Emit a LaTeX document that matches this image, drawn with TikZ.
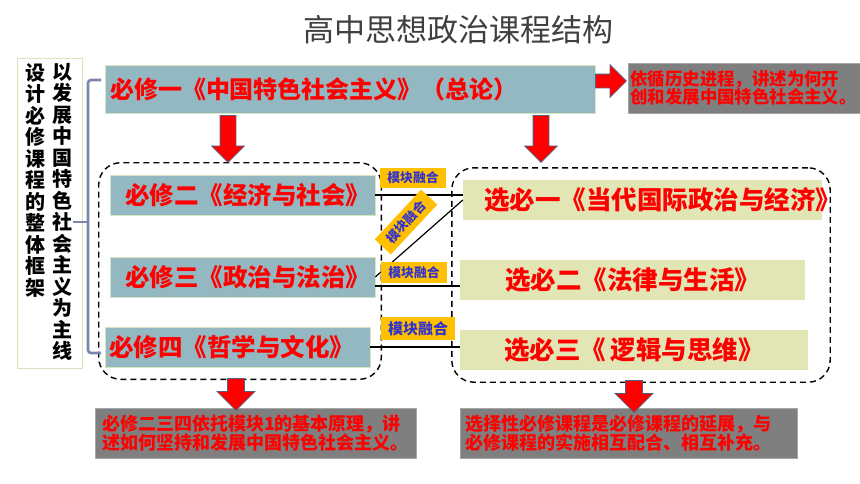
\documentclass[tikz,border=0pt]{standalone}
\usepackage{fontspec}
\setmainfont{Noto Sans CJK SC}
\usetikzlibrary{arrows.meta,backgrounds,calc,fit,shapes.arrows}
\definecolor{kcink}{HTML}{404040}
\definecolor{kcred}{HTML}{FF0000}
\definecolor{kcteal}{HTML}{93B8C1}
\definecolor{kctealedge}{HTML}{D7E4BD}
\definecolor{kcolive}{HTML}{E2E6B4}
\definecolor{kcgray}{HTML}{7F7F7F}
\definecolor{kcgrayedge}{HTML}{A6A6A6}
\definecolor{kcgold}{HTML}{FFC000}
\definecolor{kcblue}{HTML}{3333CC}
\definecolor{kcslate}{HTML}{7A85AC}
\definecolor{kcarrowedge}{HTML}{4F6082}
\definecolor{kcdot}{HTML}{A9BFD3}
\definecolor{kcframe}{HTML}{D9E4BE}
\tikzset{
  kcbox/.style={
    inner sep=0pt,
    minimum height=40pt,
    minimum width=265pt,
    text=kcred,
    font=\fontsize{24.5}{27}\selectfont\bfseries
  },
  kccore/.style={
    kcbox,
    fill=kcteal,
    draw=kctealedge,
    line width=0.6pt
  },
  kcelect/.style={
    kcbox,
    fill=kcolive,
    font=\fontsize{25.5}{28}\selectfont\bfseries
  },
  kcnote/.style={
    fill=kcgray,
    draw=kcgrayedge,
    line width=0.6pt,
    minimum height=50pt,
    inner ysep=0pt,
    align=left,
    text=kcred,
    font=\fontsize{18}{19}\selectfont\bfseries
  },
  kcfuse/.style={
    fill=kcgold,
    inner sep=0pt,
    minimum width=66pt,
    minimum height=20pt,
    text=kcblue,
    font=\fontsize{12.8}{14}\selectfont\bfseries
  },
  kcgroup/.style={
    draw=black,
    line width=1.4pt,
    dash pattern=on 6pt off 4pt,
    rounded corners=22pt
  },
  kclink/.style={
    draw=black,
    line width=1.2pt
  },
  kcbrace/.style={
    draw=kcslate,
    line width=2.6pt,
    rounded corners=3pt
  },
  kcvert/.style={
    inner sep=0pt,
    align=center,
    text=black,
    font=\fontsize{20}{21.5}\selectfont\bfseries
  },
  kcblock/.style={
    single arrow,
    fill=kcred,
    draw=kcarrowedge,
    line width=0.8pt,
    inner xsep=0pt,
    minimum width=0pt
  },
  kcdown/.style={
    kcblock,
    rotate=-90,
    anchor=tail,
    inner ysep=7.5pt,
    single arrow head extend=8.5pt,
    minimum height=47pt
  },
  kcdownwide/.style={
    kcblock,
    rotate=-90,
    anchor=tail,
    inner ysep=8pt,
    single arrow head extend=10.5pt,
    minimum height=32pt
  }
}

\begin{document}
\begin{tikzpicture}[x=1pt,y=-1pt]
  \useasboundingbox (0,0) rectangle (860,483);
  \fill[white] (0,0) rectangle (860,483);

  \node[font=\fontsize{31}{34}\selectfont, text=kcink] (title) at (458,30) {高中思想政治课程结构};

  \node[draw=kcframe, line width=0.8pt, fill=white, minimum width=65pt, minimum height=310pt] (frame) at (49.5,213) {};
  \node[kcvert, anchor=north] (aimtext) at (35,63) {设\\计\\必\\修\\课\\程\\的\\整\\体\\框\\架};
  \node[kcvert, anchor=north] (linetext) at (62,63) {以\\发\\展\\中\\国\\特\\色\\社\\会\\主\\义\\为\\主\\线};

  \node[kccore, minimum width=490pt, minimum height=48pt, text width=480pt, inner xsep=5pt, align=left,
    font=\fontsize{24}{27}\selectfont\bfseries] (bx1) at (350,89) {必修一《中国特色社会主义》（总论）};
  \node[kcnote, minimum width=232pt, text width=227pt, inner xsep=2.5pt,
    font=\fontsize{17.4}{18.5}\selectfont\bfseries] (histnote) at (744,88)
    {依循历史进程，讲述为何开\\创和发展中国特色社会主义。};

  \node[kccore, text width=255pt, inner xsep=5pt, align=right] (bx2) at (242.5,195) {必修二《经济与社会》};
  \node[kccore, text width=255pt, inner xsep=5pt, align=right] (bx3) at (242.5,277) {必修三《政治与法治》};
  \node[kccore, text width=257pt, inner xsep=4pt, align=left] (bx4) at (237.5,347) {必修四《哲学与文化》};

  \node[kcelect, minimum width=359pt, text width=317pt, inner xsep=21pt, align=left] (xb1) at (642.5,200) {选必一《当代国际政治与经济》};
  \node[kcelect, minimum width=345pt] (xb2) at (632.5,280) {选必二《法律与生活》};
  \node[kcelect, minimum width=348pt] (xb3) at (634,350) {选必三《\,逻辑与思维》};

  \node[kcgroup, fit=(bx2)(bx3)(bx4), inner xsep=6pt, inner ysep=12pt] (coregroup) {};
  \node[kcgroup, fit=(xb1)(xb2)(xb3), inner xsep=8pt, inner ysep=12pt] (electgroup) {};

  \draw[kclink] (bx2.east) -- (bx2.east -| xb1.west);
  \draw[kclink] (bx3.east) -- (xb1.west);
  \draw[kclink] ([yshift=-9pt]bx3.east) -- ([yshift=-9pt]bx3.east -| xb2.west);
  \draw[kclink] (bx4.east) -- (bx4.east -| xb3.west);

  \node[kcfuse] (fuse1) at (413,178) {模块融合};
  \node[kcfuse, rotate=47, minimum width=68pt, minimum height=22pt] (fuse2) at (406,222) {模块融合};
  \node[kcfuse, minimum height=21pt] (fuse3) at (414,272.5) {模块融合};
  \node[kcfuse, minimum width=74pt, minimum height=23pt, font=\fontsize{15}{17}\selectfont\bfseries] (fuse4) at (418,328.5) {模块融合};

  \node[kcnote, minimum width=321pt, text width=307pt, inner xsep=7pt] (corenote) at (255.5,433)
    {必修二三四依托模块1的基本原理，讲\\述如何坚持和发展中国特色社会主义。};
  \node[kcnote, minimum width=337pt, text width=327pt, inner xsep=5pt] (electnote) at (628.5,433)
    {选择性必修课程是必修课程的延展，与\\必修课程的实施相互配合、相互补充。};

  \node[kcblock, anchor=tail, inner ysep=6.5pt, single arrow head extend=9.5pt, minimum height=31pt] (toright) at (595,81) {};
  \node[kcdown] (tocore) at (228,115) {};
  \node[kcdown] (toelect) at (541,115) {};
  \node[kcdownwide] (corebelow) at (236,378) {};
  \node[kcdownwide] (electbelow) at (634,380) {};

  \coordinate (bracetop) at (101,80);
  \coordinate (bracebot) at (101,353);
  \coordinate (bracemid) at (73,222);
  \draw[kcbrace] (bracetop) -- ++(-13,0) -- ($(bracebot)+(-13,0)$) -- (bracebot);
  \draw[kcbrace] (bracemid) -- ++(15,0);

  \begin{scope}[on background layer]
    \draw[kcdot, line width=0.8pt, dotted] (43,80) -- (103,80);
    \draw[kcdot, line width=0.8pt, dotted] (43,447) -- (821,447);
    \fill[kcdot] (43,453) -- (53,459.5) -- (43,466) -- cycle;
  \end{scope}
\end{tikzpicture}
\end{document}
